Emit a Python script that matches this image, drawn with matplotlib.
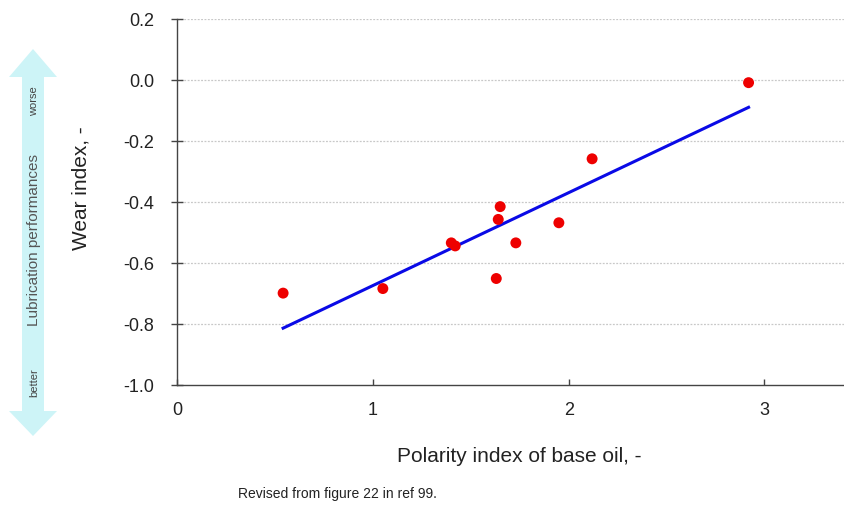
import matplotlib
matplotlib.use('Agg')
import matplotlib.pyplot as plt
from matplotlib.patches import Polygon

# measured points (polarity index vs wear index)
polarity = [0.54, 1.05, 1.40, 1.42, 1.63, 1.64, 1.65, 1.73, 1.95, 2.12, 2.92]
wear = [-0.70, -0.685, -0.535, -0.545, -0.652, -0.458, -0.416, -0.535, -0.469, -0.259, -0.009]

# regression line end points
fit_x = [0.54, 2.92]
fit_y = [-0.815, -0.09]

x_ticks = [0, 1, 2, 3]
y_ticks = [0.2, 0.0, -0.2, -0.4, -0.6, -0.8, -1.0]

plt.rcParams['font.family'] = ['Liberation Sans', 'DejaVu Sans']

W, H = 845, 506
fig = plt.figure(figsize=(W / 100, H / 100), dpi=100)


def fx(px):
    return px / W


def fy(py):
    return 1 - py / H


left, right, top, bottom = 177.5, 862, 20, 385.5
ax = fig.add_axes([fx(left), fy(bottom), fx(right - left), fy(top) - fy(bottom)])

ax.set_xlim(0, 3.5)
ax.set_ylim(-1.0, 0.2)
ax.set_xticks(x_ticks)
ax.set_yticks(y_ticks)
ax.set_yticklabels(['{:.1f}'.format(v) for v in y_ticks])

for v in y_ticks[:-1]:
    ax.axhline(v, color='#c8c8c8', lw=0.9, ls=(0, (1.5, 1.2)), zorder=0)

ax.plot(fit_x, fit_y, color='#0a0ae6', lw=2.2, zorder=2)
ax.scatter(polarity, wear, s=62, color='#ee0000', edgecolors='none', zorder=3)

for s in ['top', 'right']:
    ax.spines[s].set_visible(False)
for s in ['left', 'bottom']:
    ax.spines[s].set_color('#444444')
    ax.spines[s].set_linewidth(1.0)

ax.tick_params(axis='y', direction='inout', length=8, width=1.0, color='#444444',
               labelsize=13, pad=13, labelcolor='#222222')
ax.tick_params(axis='x', direction='in', length=4, width=1.0, color='#444444',
               labelsize=13, pad=12, labelcolor='#222222')

ax.set_xlabel('Polarity index of base oil, -', fontsize=15, color='#222222', labelpad=20)
ax.set_ylabel('Wear index, -', fontsize=15, color='#222222')
ax.yaxis.set_label_coords((91 - left) / (right - left), (fy(188) - fy(bottom)) / (fy(top) - fy(bottom)))

# lubrication performance double arrow on the left
arrow_px = [(33, 50), (57, 78), (44, 78), (44, 412), (57, 412), (33, 437),
            (9, 412), (22, 412), (22, 78), (9, 78)]
fig.patches.append(Polygon([(fx(a), fy(b)) for a, b in arrow_px], closed=True,
                           transform=fig.transFigure, facecolor='#cdf4f7',
                           edgecolor='none', figure=fig))

fig.text(fx(34), fy(240), 'Lubrication performances', rotation=90, ha='center', va='center',
         fontsize=11, color='#555555')
fig.text(fx(34), fy(101), 'worse', rotation=90, ha='center', va='center',
         fontsize=8, color='#444444')
fig.text(fx(34), fy(383), 'better', rotation=90, ha='center', va='center',
         fontsize=8, color='#444444')

fig.text(fx(238), fy(494), 'Revised from figure 22 in ref 99.', ha='left', va='center',
         fontsize=10, color='#222222')

fig.savefig('out.png', dpi=100)
